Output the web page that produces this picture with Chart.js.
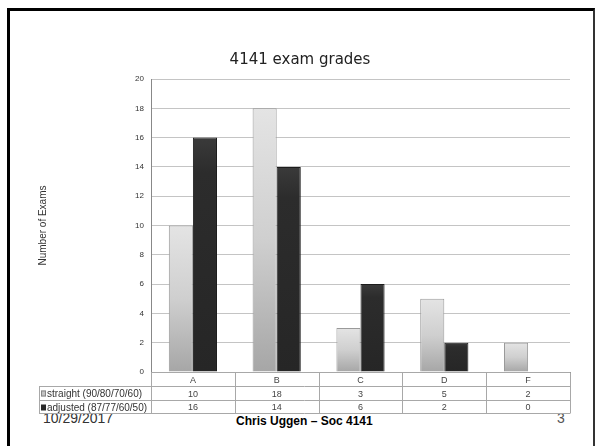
<!DOCTYPE html>
<html>
<head>
<meta charset="utf-8">
<script src="https://cdn.jsdelivr.net/npm/chart.js@4"></script>
<style>
  html, body { margin: 0; padding: 0; background: #fff; }
  #wrap { position: relative; width: 596px; height: 446px; overflow: hidden; background: #fff; }
  #c { position: absolute; left: 0; top: 0; z-index: 2; }
  .frame { position: absolute; left: 7px; top: 8px; width: 583px; height: 440px; border-top: 3px solid #000; border-left: 3px solid #000; border-right: 2px solid #333; z-index: 3; pointer-events: none; }
  .foot { position: absolute; z-index: 1; font-family: "Liberation Sans", Arial, sans-serif; white-space: nowrap; }
</style>
</head>
<body>
<div id="wrap">
  <div class="foot" style="left:43px; top:411px; font-size:14px; line-height:14px; color:#333;">10/29/2017</div>
  <div class="foot" style="left:236px; top:414px; font-size:12px; line-height:14px; font-weight:bold; color:#000;">Chris Uggen – Soc 4141</div>
  <div class="foot" style="left:557px; top:411px; font-size:14px; line-height:14px; color:#555;">3</div>
  <canvas id="c" width="596" height="446"></canvas>
  <div class="frame"></div>
</div>
<script>
const categories = ['A', 'B', 'C', 'D', 'F'];
const straightLabel = 'straight (90/80/70/60)';
const adjustedLabel = 'adjusted (87/77/60/50)';
const straightValues = [10, 18, 3, 5, 2];
const adjustedValues = [16, 14, 6, 2, 0];
const chartTitle = '4141 exam grades';
const yAxisTitle = 'Number of Exams';

function straightFill(ctx) {
  const chart = ctx.chart;
  const area = chart.chartArea;
  if (!area || ctx.raw === undefined) return '#c8c8c8';
  const ys = chart.scales.y;
  const top = ys.getPixelForValue(ctx.raw);
  const bottom = ys.getPixelForValue(0);
  if (!(bottom > top)) return '#c8c8c8';
  const g = chart.ctx.createLinearGradient(0, top, 0, bottom);
  g.addColorStop(0, '#e4e4e4');
  g.addColorStop(0.5, '#cfcfcf');
  g.addColorStop(1, '#a6a6a6');
  return g;
}
function adjustedFill(ctx) {
  const chart = ctx.chart;
  const area = chart.chartArea;
  if (!area || ctx.raw === undefined) return '#2e2e2e';
  const ys = chart.scales.y;
  const top = ys.getPixelForValue(ctx.raw);
  const bottom = ys.getPixelForValue(0);
  if (!(bottom > top)) return '#2e2e2e';
  const g = chart.ctx.createLinearGradient(0, top, 0, bottom);
  g.addColorStop(0, '#3a3a3a');
  g.addColorStop(0.15, '#2c2c2c');
  g.addColorStop(1, '#262626');
  return g;
}

const tablePlugin = {
  id: 'dataTable',
  afterDraw(chart) {
    const ctx = chart.ctx;
    const xs = chart.scales.x;
    const area = chart.chartArea;
    const n = categories.length;
    const colW = (area.right - area.left) / n;
    const legendLeft = 39;
    const y0 = Math.round(area.bottom) + 0.5;
    const rowH = 14;
    const y1 = y0 + rowH, y2 = y1 + rowH, y3 = y2 + 13;
    ctx.save();
    // white background for table
    ctx.fillStyle = '#fff';
    ctx.fillRect(area.left, y0, area.right - area.left, rowH);
    ctx.fillRect(legendLeft, y1, area.right - legendLeft, y3 - y1);
    ctx.strokeStyle = '#a8a8a8';
    ctx.lineWidth = 1;
    ctx.beginPath();
    ctx.moveTo(area.left, y0); ctx.lineTo(area.right, y0);
    ctx.moveTo(legendLeft, y1); ctx.lineTo(area.right, y1);
    ctx.moveTo(legendLeft, y2); ctx.lineTo(area.right, y2);
    ctx.moveTo(legendLeft, y3); ctx.lineTo(area.right, y3);
    ctx.moveTo(legendLeft + 0.5, y1); ctx.lineTo(legendLeft + 0.5, y3);
    for (let i = 0; i <= n; i++) {
      const x = Math.round(area.left + i * colW) + 0.5;
      ctx.moveTo(x, y0); ctx.lineTo(x, y3);
    }
    ctx.stroke();
    ctx.textAlign = 'center';
    ctx.textBaseline = 'middle';
    ctx.fillStyle = '#444';
    ctx.font = '9px "Liberation Sans", Arial, sans-serif';
    categories.forEach((c, i) => {
      const x = xs.getPixelForValue(i);
      ctx.fillText(c, x, y0 + rowH / 2 + 1);
      ctx.fillText(String(straightValues[i]), x, y1 + rowH / 2 + 1);
      ctx.fillText(String(adjustedValues[i]), x, y2 + 13 / 2 + 1);
    });
    // legend cells
    ctx.textAlign = 'left';
    ctx.font = '10px "Liberation Sans", Arial, sans-serif';
    ctx.fillStyle = '#333';
    ctx.fillText(straightLabel, legendLeft + 8, y1 + rowH / 2 + 1);
    ctx.fillText(adjustedLabel, legendLeft + 8, y2 + 13 / 2 + 1);
    // legend keys
    ctx.fillStyle = '#c4c4c4';
    ctx.fillRect(legendLeft + 2, y1 + 4, 5, 6);
    ctx.strokeStyle = '#888';
    ctx.strokeRect(legendLeft + 2.5, y1 + 4.5, 4, 5);
    ctx.fillStyle = '#2a2a2a';
    ctx.fillRect(legendLeft + 2, y2 + 4, 5, 6);
    ctx.restore();
  }
};

new Chart(document.getElementById('c'), {
  type: 'bar',
  data: {
    labels: categories,
    datasets: [
      { label: straightLabel, data: straightValues, backgroundColor: straightFill, borderColor: '#9a9a9a', borderWidth: 1 },
      { label: adjustedLabel, data: adjustedValues, backgroundColor: adjustedFill, borderColor: '#1c1c1c', borderWidth: 1 }
    ]
  },
  options: {
    responsive: false,
    animation: false,
    devicePixelRatio: 1,
    layout: { padding: { left: 30, right: 26, top: 0, bottom: 74 } },
    datasets: { bar: { categoryPercentage: 0.575, barPercentage: 1 } },
    plugins: {
      legend: { display: false },
      tooltip: { enabled: false },
      title: {
        display: true,
        text: chartTitle,
        color: '#222',
        font: { family: '"DejaVu Sans", Verdana, sans-serif', size: 15, weight: 'normal' },
        padding: { top: 51, bottom: 10 }
      }
    },
    scales: {
      x: {
        ticks: { display: false },
        grid: { display: false },
        border: { display: true, color: '#888' },
        afterFit(scale) { scale.height = 0; }
      },
      y: {
        min: 0,
        max: 20,
        ticks: { stepSize: 2, padding: 7, color: '#333', font: { family: '"Liberation Sans", Arial, sans-serif', size: 8 } },
        grid: { color: '#c4c4c4', drawTicks: false },
        border: { display: true, color: '#888' },
        title: {
          display: true,
          text: yAxisTitle,
          color: '#333',
          font: { family: '"Liberation Sans", Arial, sans-serif', size: 10 },
          padding: { top: 7, bottom: 0 }
        },
        afterFit(scale) { scale.width = 121; }
      }
    }
  },
  plugins: [tablePlugin]
});
</script>
</body>
</html>
